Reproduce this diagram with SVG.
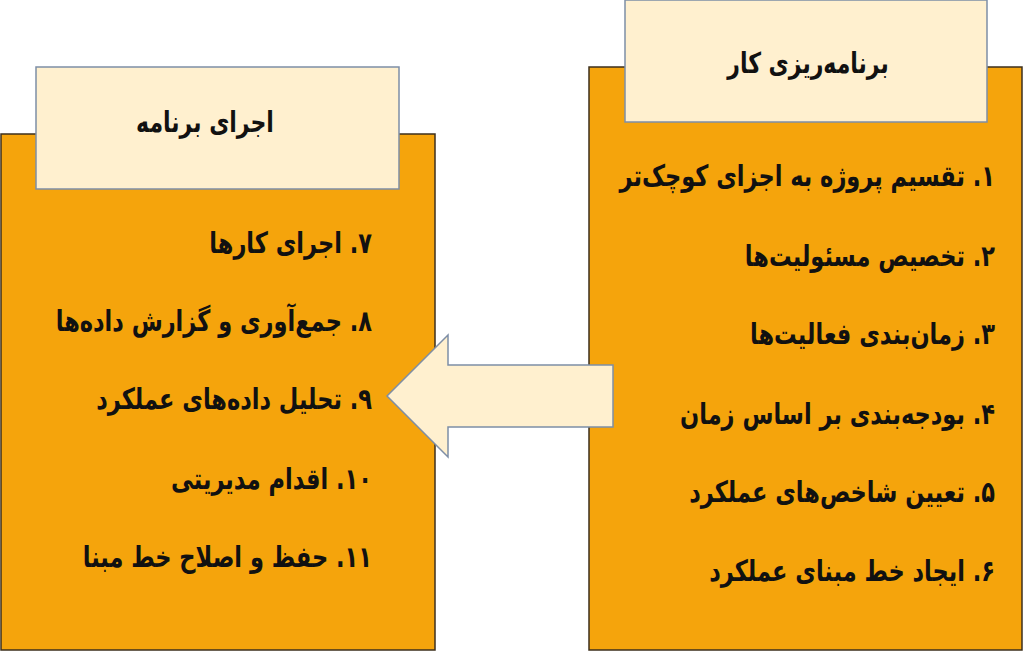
<svg xmlns="http://www.w3.org/2000/svg" width="1024" height="652" viewBox="0 0 1024 652">
<style>
.box{fill:#F5A40C;stroke:#3d2f1c;stroke-width:1.5}
.hdr{fill:#FFF0CF;stroke:#7E8EA6;stroke-width:1.5}
.arrow{fill:#FFF0CF;stroke:#7E8EA6;stroke-width:1.5}
text{font-family:"DejaVu Sans",sans-serif;font-weight:bold;fill:#111;font-size:22.5px;dominant-baseline:central}
.item{direction:rtl;text-anchor:start}
.title{text-anchor:middle;direction:rtl;font-size:22px}
</style>
<rect width="1024" height="652" fill="#ffffff"/>
<g id="node-execution">
<rect class="box" x="1" y="134" width="434" height="516"/>
<rect class="hdr" x="36" y="67" width="363" height="122"/>
<text class="title" transform="translate(205,122) scale(1,1.3)">اجرای برنامه</text>
<text class="item" transform="translate(372,243) scale(1,1.3)">۷. اجرای کارها</text>
<text class="item" transform="translate(372,321) scale(1,1.3)">۸. جمع‌آوری و گزارش داده‌ها</text>
<text class="item" transform="translate(372,399) scale(1,1.3)">۹. تحلیل داده‌های عملکرد</text>
<text class="item" transform="translate(372,479) scale(1,1.3)">۱۰. اقدام مدیریتی</text>
<text class="item" transform="translate(372,557) scale(1,1.3)">۱۱. حفظ و اصلاح خط مبنا</text>
</g>
<g id="node-planning">
<rect class="box" x="589" y="67" width="433" height="583"/>
<rect class="hdr" x="625" y="0" width="362" height="122"/>
<text class="title" transform="translate(808,63) scale(1,1.3)">برنامه‌ریزی کار</text>
<text class="item" transform="translate(995,176) scale(1,1.3)">۱. تقسیم پروژه به اجزای کوچک‌تر</text>
<text class="item" transform="translate(995,256) scale(1,1.3)">۲. تخصیص مسئولیت‌ها</text>
<text class="item" transform="translate(995,334) scale(1,1.3)">۳. زمان‌بندی فعالیت‌ها</text>
<text class="item" transform="translate(995,414) scale(1,1.3)">۴. بودجه‌بندی بر اساس زمان</text>
<text class="item" transform="translate(995,492) scale(1,1.3)">۵. تعیین شاخص‌های عملکرد</text>
<text class="item" transform="translate(995,571) scale(1,1.3)">۶. ایجاد خط مبنای عملکرد</text>
</g>
<g id="connectors">
<polygon class="arrow" points="613,365 448,365 448,335 387,396 448,457 448,427 613,427"/>
</g>
</svg>
